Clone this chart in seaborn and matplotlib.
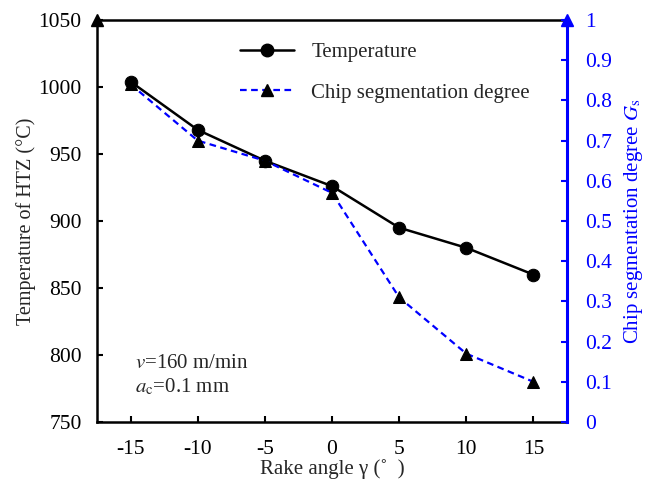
import matplotlib
matplotlib.use("Agg")
import matplotlib.pyplot as plt
from matplotlib.lines import Line2D
import seaborn as sns
import pandas as pd

# Rake angle (degrees)
rake_angle = [-15, -10, -5, 0, 5, 10, 15]
# Temperature of the heat-transfer zone (°C)
temperature = [1004, 968, 945, 926, 895, 880, 860]
# Chip segmentation degree Gs
segmentation = [0.84, 0.70, 0.65, 0.57, 0.31, 0.17, 0.10]

y_ticks_left = [750, 800, 850, 900, 950, 1000, 1050]
y_ticks_right = [0, 0.1, 0.2, 0.3, 0.4, 0.5, 0.6, 0.7, 0.8, 0.9, 1]
x_ticks = [-15, -10, -5, 0, 5, 10, 15]

df = pd.DataFrame({"rake": rake_angle, "temp": temperature, "gs": segmentation})

sns.set_style("ticks")
plt.rcParams["font.family"] = ["Liberation Serif", "DejaVu Serif"]
plt.rcParams["mathtext.fontset"] = "stix"
plt.rcParams["xtick.direction"] = "in"
plt.rcParams["ytick.direction"] = "in"

fig = plt.figure(figsize=(6.51, 4.84), dpi=100)
ax = fig.add_axes([97 / 651, 1 - 422 / 484, 470 / 651, 402 / 484])
ax2 = ax.twinx()

blue = "#0000FF"

sns.lineplot(data=df, x="rake", y="temp", ax=ax, color="black", linewidth=1.8,
             marker="o", markersize=9, markeredgecolor="black",
             markerfacecolor="black", zorder=3)
sns.lineplot(data=df, x="rake", y="gs", ax=ax2, color=blue, linewidth=1.6,
             linestyle=(0, (3, 2)), marker="^", markersize=9,
             markeredgecolor="black", markerfacecolor="black", zorder=3)

ax.set_xlim(-17.5, 17.5)
ax.set_ylim(750, 1050)
ax2.set_ylim(0, 1)
ax.set_xticks(x_ticks)
ax.set_xticklabels([str(v) for v in x_ticks])
ax.set_yticks(y_ticks_left)
ax2.set_yticks(y_ticks_right)
ax2.set_yticklabels([f"{v:g}" for v in y_ticks_right])

fs = 15
tfs = 15.5
ax.tick_params(axis="both", labelsize=tfs, length=4, width=1.5, colors="black")
ax.tick_params(axis="y", right=False, pad=11)
ax.tick_params(axis="x", pad=13)
ax2.tick_params(axis="y", labelsize=tfs, length=4, width=1.5, colors=blue,
                labelcolor=blue, pad=13)

for side in ["left", "bottom", "top"]:
    ax.spines[side].set_linewidth(1.8)
    ax.spines[side].set_color("black")
ax.spines["right"].set_visible(False)
for side in ["left", "bottom", "top"]:
    ax2.spines[side].set_visible(False)
ax2.spines["right"].set_visible(True)
ax2.spines["right"].set_color(blue)
ax2.spines["right"].set_linewidth(2.2)

# Arrowheads at the top of the two vertical axes
ax.plot(0, 1, marker="^", color="black", markersize=8, transform=ax.transAxes,
        clip_on=False, zorder=5)
ax2.plot(1, 1, marker="^", color=blue, markersize=8, transform=ax2.transAxes,
         clip_on=False, zorder=5)

ax.set_xlabel("Rake angle γ (˚  )", fontsize=fs, labelpad=0)
ax.set_ylabel("Temperature of HTZ (°C)", fontsize=14.5, labelpad=2)
ax2.set_ylabel("Chip segmentation degree $G_{\\rm s}$", fontsize=fs,
               color=blue, labelpad=7)

ax.text(0.08, 0.145, "$v$=160 m/min", transform=ax.transAxes, fontsize=fs,
        va="center", ha="left")
ax.text(0.08, 0.087, "$a_{\\rm c}$=0.1 mm", transform=ax.transAxes, fontsize=fs,
        va="center", ha="left")

handles = [
    Line2D([], [], color="black", linewidth=1.8, marker="o", markersize=9,
           markerfacecolor="black"),
    Line2D([], [], color=blue, linewidth=1.6, linestyle=(0, (3, 2)),
           marker="^", markersize=9, markerfacecolor="black",
           markeredgecolor="black"),
]
ax2.legend(handles, ["Temperature", "Chip segmentation degree"],
           loc="upper left", bbox_to_anchor=(0.265, 0.99), frameon=False,
           fontsize=fs, handlelength=2.6, handletextpad=0.8,
           labelspacing=1.0)

fig.savefig("out.png", dpi=100)
